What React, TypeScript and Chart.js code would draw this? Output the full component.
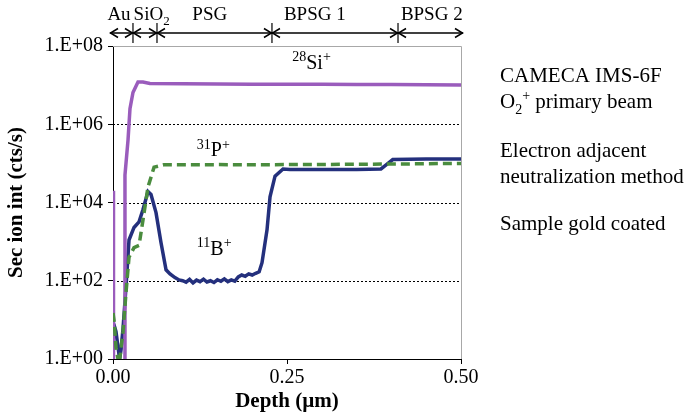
import React, { useEffect, useRef } from "react";
import { Chart, registerables } from "chart.js";

Chart.register(...registerables);

// ---------- data (depth in µm, secondary ion counts in cts/s) ----------
const siDepth = [0, 0.0007, 0.005, 0.01, 0.0162, 0.0172, 0.0216, 0.0244, 0.0287, 0.0359, 0.043, 0.053, 0.1, 0.15, 0.2, 0.25, 0.3, 0.35, 0.4, 0.45, 0.5];
const siCounts = [2e4, 0.3, 0.3, 0.3, 0.3, 5e4, 4e5, 2.5e6, 6.5e6, 1.2e7, 1.2e7, 1.1e7, 1.08e7, 1.07e7, 1.06e7, 1.05e7, 1.06e7, 1.04e7, 1.03e7, 1.02e7, 1.0e7];

const pDepth = [0, 0.0014, 0.0043, 0.0086, 0.0144, 0.0187, 0.023, 0.0302, 0.0374, 0.0431, 0.0503, 0.059, 0.073, 0.1, 0.15, 0.2, 0.25, 0.3, 0.35, 0.4, 0.45, 0.5];
const pCounts = [15, 10, 2, 0.7, 5, 50, 400, 700, 800, 3600, 2.5e4, 8e4, 9.2e4, 9.2e4, 9.3e4, 9.2e4, 9.3e4, 9.4e4, 9.5e4, 9.6e4, 9.8e4, 1e5];

const bDepth = [0.001, 0.0043, 0.0072, 0.0095, 0.0115, 0.0144, 0.0187, 0.023, 0.0302, 0.0374, 0.0431, 0.0503, 0.0546, 0.0618, 0.069, 0.0762, 0.0819, 0.089, 0.095,
  0.1, 0.105, 0.11, 0.115, 0.12, 0.125, 0.13, 0.135, 0.14, 0.145, 0.15, 0.155, 0.16, 0.165, 0.17, 0.175, 0.18, 0.185, 0.19, 0.195, 0.2, 0.205, 0.21,
  0.2141, 0.2213, 0.2256, 0.2328, 0.2443, 0.2543, 0.3, 0.35, 0.385, 0.392, 0.402, 0.45, 0.5];
const bCounts = [8, 5, 2, 1, 1.7, 6, 70, 1100, 2300, 3200, 6600, 1.9e4, 1.6e4, 5500, 940, 190, 150, 120, 105,
  100, 92, 108, 88, 104, 95, 110, 93, 100, 90, 106, 97, 112, 95, 105, 98, 125, 140, 130, 150, 140, 155, 170,
  290, 2000, 1.4e4, 4.7e4, 7.2e4, 7e4, 7e4, 7e4, 7.2e4, 9e4, 1.25e5, 1.3e5, 1.3e5];

const yTickValues = [1, 1e2, 1e4, 1e6, 1e8];
const yTickLabels = ["1.E+00", "1.E+02", "1.E+04", "1.E+06", "1.E+08"];
const xTickValues = [0, 0.25, 0.5];
const xTickLabels = ["0.00", "0.25", "0.50"];

// layer structure shown above the plot
const layerEdges = [0, 0.0287, 0.0632, 0.2284, 0.4095, 0.5];
const layerLabels: [string, string][][] = [
  [["Au", ""]],
  [["SiO", ""], ["2", "sub"]],
  [["PSG", ""]],
  [["BPSG 1", ""]],
  [["BPSG 2", ""]],
];
const layerLabelDepth = [0.0086, 0.0555, 0.139, 0.29, 0.458];

// series labels
const seriesLabels: [string, string][][] = [
  [["28", "sup"], ["Si", ""], ["+", "sup"]],
  [["31", "sup"], ["P", ""], ["+", "sup"]],
  [["11", "sup"], ["B", ""], ["+", "sup"]],
];
const seriesLabelDepth = [0.2575, 0.1205, 0.1205];
const seriesLabelCounts = [2.6e7, 1.5e5, 4.6e2];

// notes
const noteLines: [string, string][][] = [
  [["CAMECA IMS-6F", ""]],
  [["O", ""], ["2", "sub"], ["+", "sup"], [" primary beam", ""]],
  [["Electron adjacent", ""]],
  [["neutralization method", ""]],
  [["Sample gold coated", ""]],
];

const SERIF = "'Liberation Serif', 'Times New Roman', serif";
const PURPLE = "#9a5cbc";
const NAVY = "#24307d";
const GREEN = "#4a8c3e";

function drawRich(ctx: CanvasRenderingContext2D, parts: [string, string][], x: number, y: number, size: number, align: "left" | "center") {
  const small = Math.round(size * 0.68);
  let total = 0;
  for (const [t, m] of parts) {
    ctx.font = `${m ? small : size}px ${SERIF}`;
    total += ctx.measureText(t).width;
  }
  let cx = align === "center" ? x - total / 2 : x;
  ctx.textAlign = "left";
  ctx.textBaseline = "alphabetic";
  for (const [t, m] of parts) {
    ctx.font = `${m ? small : size}px ${SERIF}`;
    const dy = m === "sub" ? size * 0.28 : m === "sup" ? -size * 0.38 : 0;
    ctx.fillText(t, cx, y + dy);
    cx += ctx.measureText(t).width;
  }
}

const annotations = {
  id: "annotations",
  beforeDatasetsDraw(chart: any) {
    const { ctx, chartArea, scales } = chart;
    const y = scales.y;
    ctx.save();
    ctx.strokeStyle = "#000";
    ctx.lineWidth = 1;
    ctx.setLineDash([2, 2]);
    for (const v of yTickValues) {
      if (v === 1 || v === 1e8) continue;
      const py = Math.round(y.getPixelForValue(v)) + 0.5;
      ctx.beginPath();
      ctx.moveTo(chartArea.left, py);
      ctx.lineTo(chartArea.right, py);
      ctx.stroke();
    }
    ctx.setLineDash([]);
    ctx.strokeStyle = "#a8a8a8";
    ctx.beginPath();
    ctx.moveTo(chartArea.left, Math.round(chartArea.top) + 0.5);
    ctx.lineTo(Math.round(chartArea.right) + 0.5, Math.round(chartArea.top) + 0.5);
    ctx.lineTo(Math.round(chartArea.right) + 0.5, chartArea.bottom);
    ctx.stroke();
    ctx.restore();
  },
  afterDraw(chart: any) {
    const { ctx, chartArea, scales } = chart;
    const x = scales.x;
    const y = scales.y;
    ctx.save();
    ctx.fillStyle = "#000";
    ctx.strokeStyle = "#000";

    // layer arrows
    const ay = 33;
    const xs = layerEdges.map((d) => x.getPixelForValue(d));
    xs[0] -= 3;
    xs[xs.length - 1] += 2;
    ctx.lineWidth = 1.5;
    ctx.beginPath();
    ctx.moveTo(xs[0], ay);
    ctx.lineTo(xs[xs.length - 1], ay);
    ctx.stroke();
    const hl = 8, hh = 4.5;
    for (let i = 0; i < xs.length - 1; i++) {
      const a = xs[i], b = xs[i + 1];
      ctx.beginPath();
      ctx.moveTo(a + hl, ay - hh);
      ctx.lineTo(a + 0.5, ay);
      ctx.lineTo(a + hl, ay + hh);
      ctx.moveTo(b - hl, ay - hh);
      ctx.lineTo(b - 0.5, ay);
      ctx.lineTo(b - hl, ay + hh);
      ctx.stroke();
    }
    ctx.lineWidth = 1.2;
    for (let i = 1; i < xs.length - 1; i++) {
      ctx.beginPath();
      ctx.moveTo(xs[i], 23);
      ctx.lineTo(xs[i], 43);
      ctx.stroke();
    }
    layerLabels.forEach((parts, i) => {
      drawRich(ctx, parts, x.getPixelForValue(layerLabelDepth[i]), 20, 19, "center");
    });

    // series labels
    seriesLabels.forEach((parts, i) => {
      drawRich(ctx, parts, x.getPixelForValue(seriesLabelDepth[i]), y.getPixelForValue(seriesLabelCounts[i]), 20, "left");
    });

    // notes on the right
    const nx = chartArea.right + 39;
    const baselines = [82, 108, 157, 183, 230];
    noteLines.forEach((parts, i) => drawRich(ctx, parts, nx, baselines[i], 21, "left"));
    ctx.restore();
  },
};

export default function App() {
  const ref = useRef<HTMLCanvasElement | null>(null);
  useEffect(() => {
    if (!ref.current) return;
    const mk = (xs: number[], ys: number[]) => xs.map((d, i) => ({ x: d, y: ys[i] }));
    const chart = new Chart(ref.current, {
      type: "line",
      data: {
        datasets: [
          { label: "31P+", data: mk(pDepth, pCounts), borderColor: GREEN, borderWidth: 3.5, borderDash: [9, 5], pointRadius: 0, tension: 0, fill: false },
          { label: "28Si+", data: mk(siDepth, siCounts), borderColor: PURPLE, borderWidth: 3.5, pointRadius: 0, tension: 0, fill: false },
          { label: "11B+", data: mk(bDepth, bCounts), borderColor: NAVY, borderWidth: 3.5, pointRadius: 0, tension: 0, fill: false },
        ],
      },
      options: {
        responsive: false,
        animation: false,
        events: [],
        layout: { padding: { left: 0, top: 46, right: 227, bottom: 0 } },
        plugins: { legend: { display: false }, tooltip: { enabled: false } },
        scales: {
          x: {
            type: "linear",
            min: 0,
            max: 0.5,
            afterBuildTicks: (s: any) => { s.ticks = xTickValues.map((v) => ({ value: v })); },
            afterFit: (s: any) => { s.height = 55; },
            ticks: {
              color: "#000",
              font: { family: SERIF, size: 20 },
              padding: 2,
              maxRotation: 0,
              autoSkip: false,
              callback: (_v: any, i: number) => xTickLabels[i],
            },
            grid: { drawOnChartArea: false, drawTicks: true, tickLength: 5, tickColor: "#000", color: "#000" },
            border: { color: "#000", width: 1 },
            title: { display: true, text: "Depth (µm)", color: "#000", font: { family: SERIF, size: 21, weight: "bold" }, padding: { top: 0, bottom: 0 } },
          },
          y: {
            type: "logarithmic",
            min: 1,
            max: 1e8,
            afterBuildTicks: (s: any) => { s.ticks = yTickValues.map((v) => ({ value: v, major: true })); },
            afterFit: (s: any) => { s.width = 113; },
            ticks: {
              color: "#000",
              font: { family: SERIF, size: 20 },
              padding: 5,
              autoSkip: false,
              callback: (_v: any, i: number) => yTickLabels[i],
            },
            grid: { drawOnChartArea: false, drawTicks: true, tickLength: 5, tickColor: "#000", color: "#000" },
            border: { color: "#000", width: 1 },
            title: { display: true, text: "Sec ion int (cts/s)", color: "#000", font: { family: SERIF, size: 21, weight: "bold" }, padding: { top: 4, bottom: 4 } },
          },
        },
      } as any,
      plugins: [annotations],
    });
    return () => chart.destroy();
  }, []);
  return (
    <div style={{ position: "fixed", left: 0, top: 0, width: 688, height: 414, background: "#fff" }}>
      <canvas ref={ref} width={688} height={414} style={{ width: 688, height: 414, display: "block" }} />
    </div>
  );
}
